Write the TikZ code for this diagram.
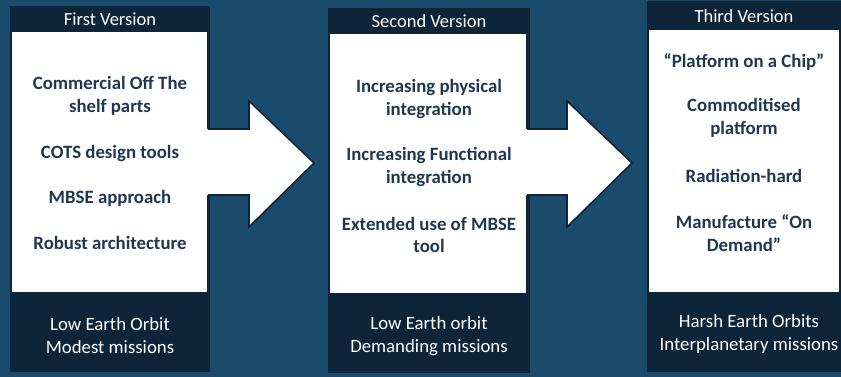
\documentclass[tikz,border=0pt]{standalone}
\usepackage{fontspec}
\setmainfont{Carlito}
\definecolor{bg}{HTML}{1A4A6C}
\definecolor{panel}{HTML}{0E2539}
\definecolor{navy}{HTML}{1E3852}
\begin{document}
\begin{tikzpicture}[x=1pt,y=-1pt,
  outerbox/.style={fill=panel,draw=none},
  whitebox/.style={fill=white,draw=none},
  headtxt/.style={text=white,font=\fontsize{18.5}{20}\selectfont,align=center,inner sep=0pt},
  foottxt/.style={text=white,font=\fontsize{18.8}{23}\selectfont,align=center,inner sep=0pt},
  itemtxt/.style={text=navy,font=\bfseries\fontsize{18.8}{22.5}\selectfont,align=center,inner sep=0pt},
  blockarrow/.style={fill=white,draw=none},
  arrowedge/.style={draw=panel,line width=1.6pt,line join=miter}]
\useasboundingbox (0,0) rectangle (841,377);
\fill[bg] (0,0) rectangle (841,377);
% panels
\fill[outerbox] (10,6) rectangle (210,372);
\fill[whitebox] (12,32) rectangle (207,292);
\fill[outerbox] (328,8) rectangle (530,373);
\fill[whitebox] (330,34) rectangle (526,293);
\fill[outerbox] (647,1) rectangle (841,372);
\fill[whitebox] (649,30) rectangle (839,292);
% arrows
\fill[blockarrow] (200,129) -- (249,129) -- (249,101) -- (314,163) -- (249,227) -- (249,195) -- (200,195) -- cycle;
\draw[arrowedge] (208,129) -- (249,129) -- (249,101) -- (314,163) -- (249,227) -- (249,195) -- (208,195);
\fill[blockarrow] (519,129) -- (567,129) -- (567,101) -- (632,163) -- (567,227) -- (567,195) -- (519,195) -- cycle;
\draw[arrowedge] (527,129) -- (567,129) -- (567,101) -- (632,163) -- (567,227) -- (567,195) -- (527,195);
% headers
\node[headtxt] (h1) at (110,19) {First Version};
\node[headtxt] (h2) at (429,21) {Second Version};
\node[headtxt] (h3) at (744,16) {Third Version};
% items
\node[itemtxt] (a1) at (110,96) {Commercial Off The\\shelf parts};
\node[itemtxt] (a2) at (110,153) {COTS design tools};
\node[itemtxt] (a3) at (110,198) {MBSE approach};
\node[itemtxt] (a4) at (110,243) {Robust architecture};
\node[itemtxt] (b1) at (429,99) {Increasing physical\\integration};
\node[itemtxt] (b2) at (429,167) {Increasing Functional\\integration};
\node[itemtxt] (b3) at (429,235) {Extended use of MBSE\\tool};
\node[itemtxt] (c1) at (744,62) {“Platform on a Chip”};
\node[itemtxt] (c2) at (744,118) {Commoditised\\platform};
\node[itemtxt] (c3) at (744,176) {Radiation-hard};
\node[itemtxt] (c4) at (744,233) {Manufacture “On\\Demand”};
% footers
\node[foottxt] (f1) at (110,336) {Low Earth Orbit\\Modest missions};
\node[foottxt] (f2) at (429,336) {Low Earth orbit\\Demanding missions};
\node[foottxt] (f3) at (749,334) {Harsh Earth Orbits\\Interplanetary missions};
\end{tikzpicture}
\end{document}
